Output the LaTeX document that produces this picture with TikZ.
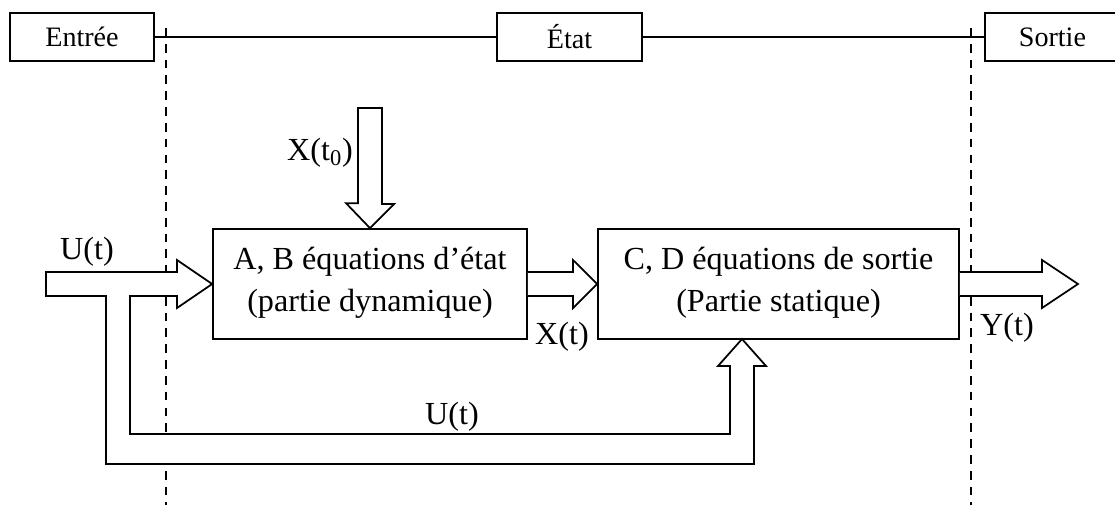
\documentclass[tikz,border=0pt]{standalone}
\usepackage{fontspec}
\setmainfont{Liberation Serif}
\usetikzlibrary{calc}

\tikzset{
  bloc/.style={draw,line width=1pt,minimum height=2.2cm,align=center,font=\fontsize{18.3}{23.5}\selectfont},
  zone/.style={draw,line width=1pt,minimum height=0.96cm,font=\fontsize{16}{19}\selectfont},
  fleche/.style={draw,line width=1pt,line join=miter,fill=white},
  lbl/.style={font=\fontsize{18.3}{22}\selectfont,inner sep=0pt}
}

\begin{document}
\begin{tikzpicture}[x=0.02cm,y=-0.02cm]
\useasboundingbox (0,0) rectangle (1115,505);
% zones du haut
\node[zone,minimum width=2.88cm] (entree) at (82,37) {Entrée};
\node[zone,minimum width=2.9cm] (etat) at (569.5,37) {État};
\node[zone,anchor=west,text width=2.2cm,inner xsep=0.68cm,align=left] (sortie) at (984,37) {Sortie};
\draw[line width=1pt] (entree.east) -- (etat.west);
\draw[line width=1pt] (etat.east) -- (sortie.west);
\draw[dashed,line width=0.8pt,dash pattern=on 5 off 4] (166,28) -- (166,505);
\draw[dashed,line width=0.8pt,dash pattern=on 5 off 4] (971,28) -- (971,505);
% blocs
\node[bloc,minimum width=6.28cm] (ab) at (370,284) {A, B équations d’état\\(partie dynamique)\\[-18pt]\mbox{}};
\node[bloc,minimum width=7.22cm] (cd) at (778.5,284) {C, D équations de sortie\\(Partie statique)\\[-18pt]\mbox{}};
\coordinate (x0) at (370,108);
\coordinate (ufb) at (742,339);
\coordinate (yout) at (1078,284);
% fleches
\draw[fleche] ($(x0)+(-12,0)$) -- ($(x0)+(12,0)$) -- ++(0,96) -- ++(12,0) -- (ab.north) -- ++(-24,-25) -- ++(12,0) -- cycle;
\draw[fleche] (46,272) -- (177,272) -- (177,260) -- (ab.west) -- (177,308) -- (177,296) -- (130,296) -- (130,434)
  -- (730,434) -- (730,366) -- (718,366) -- (ufb) -- (766,366) -- (754,366) -- (754,464) -- (106,464) -- (106,296) -- (46,296) -- cycle;
\draw[fleche] ($(ab.east)+(0,-12)$) -- (573,272) -- (573,260) -- (cd.west) -- (573,308) -- (573,296) -- ($(ab.east)+(0,12)$);
\draw[fleche] ($(cd.east)+(0,-12)$) -- (1042,272) -- (1042,260) -- (yout) -- (1042,308) -- (1042,296) -- ($(cd.east)+(0,12)$);
% etiquettes
\node[lbl] (lx0) at (320,153) {X(t\textsubscript{0})};
\node[lbl] (lu) at (87,252) {U(t)};
\node[lbl] (lu2) at (452,417) {U(t)};
\node[lbl] (lx) at (562,337) {X(t)};
\node[lbl] (ly) at (1007,328) {Y(t)};
\end{tikzpicture}
\end{document}
